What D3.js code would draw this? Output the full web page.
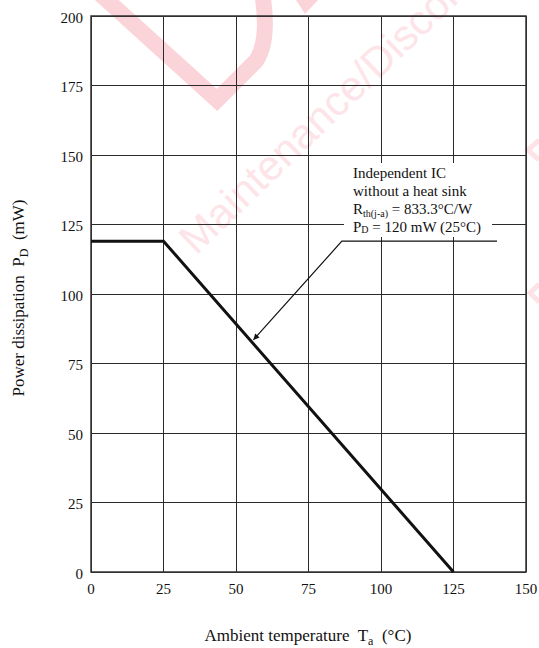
<!DOCTYPE html>
<html>
<head>
<meta charset="utf-8">
<script src="https://cdn.jsdelivr.net/npm/d3@7"></script>
<style>
  body { margin: 0; background: #fff; }
  svg { display: block; }
  text { font-family: "Liberation Serif", "Times New Roman", serif; fill: #111; }
</style>
</head>
<body>
<div id="chart"></div>
<script>
// data
const tempC = [0, 25, 125];
const powerMW = [119, 119, 0];

const xTicks = [0, 25, 50, 75, 100, 125, 150];
const yTicks = [0, 25, 50, 75, 100, 125, 150, 175, 200];

// leader line of the note: [temp, power]
const leaderPts = [[140, 119], [86.5, 119], [56, 83.5]];

const width = 539;
const height = 648;

const x = d3.scaleLinear().domain([0, 150]).range([91, 526]);
const y = d3.scaleLinear().domain([0, 200]).range([572, 16]);

const svg = d3.select('#chart')
  .append('svg')
  .attr('width', width)
  .attr('height', height);

// faint watermark behind everything
const wm = svg.append('g').attr('class', 'watermark');
wm.append('path')
  .attr('d', 'M98,-8 L217,100 L256,61 Q270,40 262,-8')
  .attr('fill', 'none')
  .attr('stroke', '#fad4d9')
  .attr('stroke-width', 16)
  .attr('stroke-linejoin', 'miter');
wm.append('path')
  .attr('d', 'M296,0 L318,0 L305,14 Z')
  .attr('fill', '#fad4d9');
wm.append('path')
  .attr('d', 'M539,140 L528,150 L539,160 M539,284 L530,293 L539,302')
  .attr('fill', 'none')
  .attr('stroke', '#fde3e6')
  .attr('stroke-width', 5);
wm.append('text')
  .attr('transform', 'translate(196,256) rotate(-44)')
  .style('font-family', '"Liberation Sans", Arial, sans-serif')
  .attr('font-size', 42)
  .style('fill', '#fde4e8')
  .text('Maintenance/Discontinued');

// grid
const grid = svg.append('g')
  .attr('stroke', '#2a2a2a')
  .attr('stroke-width', 1)
  .attr('shape-rendering', 'crispEdges');

grid.selectAll('line.v')
  .data(xTicks)
  .enter().append('line')
  .attr('class', 'v')
  .attr('x1', d => x(d)).attr('x2', d => x(d))
  .attr('y1', y(0)).attr('y2', y(200));

grid.selectAll('line.h')
  .data(yTicks)
  .enter().append('line')
  .attr('class', 'h')
  .attr('x1', x(0)).attr('x2', x(150))
  .attr('y1', d => y(d)).attr('y2', d => y(d));

// frame
svg.append('rect')
  .attr('x', x(0)).attr('y', y(200))
  .attr('width', x(150) - x(0)).attr('height', y(0) - y(200))
  .attr('fill', 'none')
  .attr('stroke', '#333')
  .attr('stroke-width', 1.5);

// tick labels
svg.selectAll('text.ytick')
  .data(yTicks)
  .enter().append('text')
  .attr('class', 'ytick')
  .attr('x', 83)
  .attr('y', d => y(d) + 6.5)
  .attr('text-anchor', 'end')
  .attr('font-size', 15)
  .text(d => d);

svg.selectAll('text.xtick')
  .data(xTicks)
  .enter().append('text')
  .attr('class', 'xtick')
  .attr('x', d => x(d))
  .attr('y', y(0) + 22)
  .attr('text-anchor', 'middle')
  .attr('font-size', 15)
  .text(d => d);

// the curve
const line = d3.line()
  .x((d, i) => x(tempC[i]))
  .y(d => y(d));

svg.append('path')
  .datum(powerMW)
  .attr('d', line)
  .attr('fill', 'none')
  .attr('stroke', '#111')
  .attr('stroke-width', 3)
  .attr('stroke-linejoin', 'miter');

// note box (white to break the grid)
svg.append('rect')
  .attr('x', 344).attr('y', 163)
  .attr('width', 148).attr('height', 74)
  .attr('fill', '#fff');

const note = svg.append('text')
  .attr('font-size', 15);

note.append('tspan').attr('x', 353).attr('y', 178).text('Independent IC');
note.append('tspan').attr('x', 353).attr('y', 196).text('without a heat sink');
const l3 = note.append('tspan').attr('x', 353).attr('y', 214);
l3.append('tspan').text('R');
l3.append('tspan').attr('font-size', 10).attr('dy', 3).text('th(j-a)');
l3.append('tspan').attr('dy', -3).text(' = 833.3\u00B0C/W');
const l4 = note.append('tspan').attr('x', 353).attr('y', 232);
l4.append('tspan').text('P');
l4.append('tspan').attr('font-size', 10).attr('dy', 1).text('D');
l4.append('tspan').attr('dy', -1).text(' = 120 mW (25\u00B0C)');

// leader with arrow
svg.append('defs').append('marker')
  .attr('id', 'arrow')
  .attr('viewBox', '0 0 10 10')
  .attr('refX', 10).attr('refY', 5)
  .attr('markerWidth', 11).attr('markerHeight', 6)
  .attr('markerUnits', 'userSpaceOnUse')
  .attr('orient', 'auto')
  .append('path')
  .attr('d', 'M0,0 L10,5 L0,10 Z')
  .attr('fill', '#111');

svg.append('path')
  .datum(leaderPts)
  .attr('d', d3.line().x(d => x(d[0])).y(d => y(d[1])))
  .attr('fill', 'none')
  .attr('stroke', '#111')
  .attr('stroke-width', 1.2)
  .attr('marker-end', 'url(#arrow)');

// axis titles
const xt = svg.append('text')
  .attr('x', 308).attr('y', 641)
  .attr('text-anchor', 'middle')
  .attr('font-size', 17)
  .style('white-space', 'pre');
xt.append('tspan').text('Ambient temperature  T');
xt.append('tspan').attr('font-size', 12).attr('dy', 4).text('a');
xt.append('tspan').attr('dy', -4).text('  (\u00B0C)');

const yt = svg.append('text')
  .attr('transform', 'translate(24,298) rotate(-90)')
  .attr('text-anchor', 'middle')
  .attr('font-size', 17)
  .style('white-space', 'pre');
yt.append('tspan').text('Power dissipation  P');
yt.append('tspan').attr('font-size', 12).attr('dy', 4).text('D');
yt.append('tspan').attr('dy', -4).text('  (mW)');
</script>
</body>
</html>
